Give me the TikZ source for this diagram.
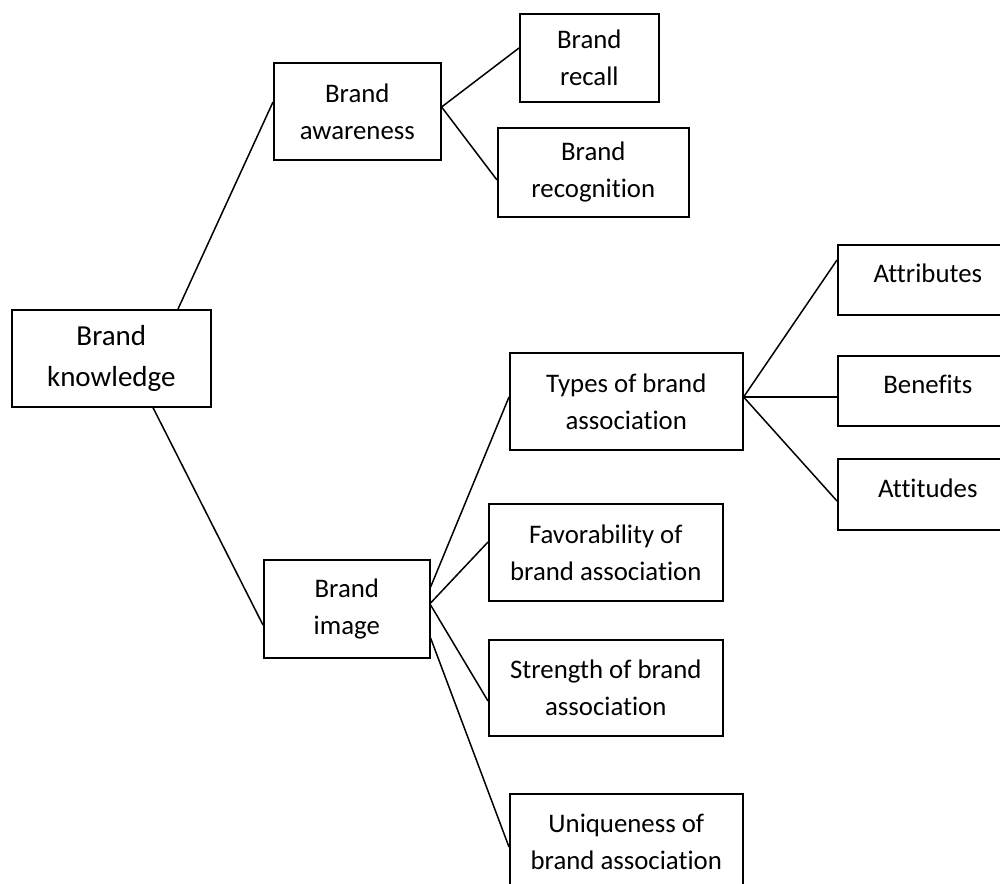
\documentclass[tikz,border=0pt]{standalone}
\usepackage{fontspec}
\setmainfont{Carlito}[Ligatures=NoCommon]
\begin{document}
\begin{tikzpicture}[x=1pt,y=-1pt,
  box/.style={draw=black, line width=1.6pt, inner sep=0pt, align=center, anchor=north west, font=\fontsize{26.8}{37}\selectfont},
  one/.style={text height=18pt, text depth=12pt},
  conn/.style={line width=1.5pt}]
\useasboundingbox (0,0) rectangle (1000,883);
\clip (0,0) rectangle (1000,883);
% boxes
\node[box, minimum width=199pt, minimum height=97pt, font=\fontsize{29}{41}\selectfont] (know) at (11,309) {Brand\\knowledge};
\node[box, minimum width=167pt, minimum height=97pt] (aware) at (273,62) {Brand\\awareness};
\node[box, minimum width=139pt, minimum height=88pt] (recall) at (519,13) {Brand\\recall};
\node[box, minimum width=191pt, minimum height=89pt] (recog) at (497,127) {Brand\\recognition};
\node[box, minimum width=233pt, minimum height=97pt] (types) at (509,352) {Types of brand\\association};
\node[box, one, minimum width=180pt, minimum height=70pt] (attr) at (837,244) {Attributes};
\node[box, one, minimum width=180pt, minimum height=70pt] (ben) at (837,355) {Benefits};
\node[box, one, minimum width=180pt, minimum height=71pt] (att) at (837,458) {Attitudes};
\node[box, minimum width=234pt, minimum height=97pt] (fav) at (488,503) {Favorability of\\brand association};
\node[box, minimum width=166pt, minimum height=98pt] (image) at (263,559) {Brand\\image};
\node[box, minimum width=234pt, minimum height=96pt] (str) at (488,639) {Strength of brand\\association};
\node[box, minimum width=233pt, minimum height=97pt] (uniq) at (509,793) {Uniqueness of\\brand association};
% connectors
\draw[conn] (know.north -| 178,0) -- (aware.west |- 0,102);
\draw[conn] (know.south -| 153,0) -- (image.west |- 0,625);
\draw[conn] (aware.east |- 0,107) -- (recall.west |- 0,48);
\draw[conn] (aware.east |- 0,107) -- (recog.west |- 0,180);
\draw[conn] (types.east |- 0,397) -- (attr.west |- 0,260);
\draw[conn] (types.east |- 0,397) -- (ben.west |- 0,397);
\draw[conn] (types.east |- 0,397) -- (att.west |- 0,501);
\draw[conn] (image.east |- 0,587) -- (types.west |- 0,397);
\draw[conn] (image.east |- 0,603) -- (fav.west |- 0,542);
\draw[conn] (image.east |- 0,605) -- (str.west |- 0,701);
\draw[conn] (image.east |- 0,638) -- (uniq.west |- 0,847);
\end{tikzpicture}
\end{document}
